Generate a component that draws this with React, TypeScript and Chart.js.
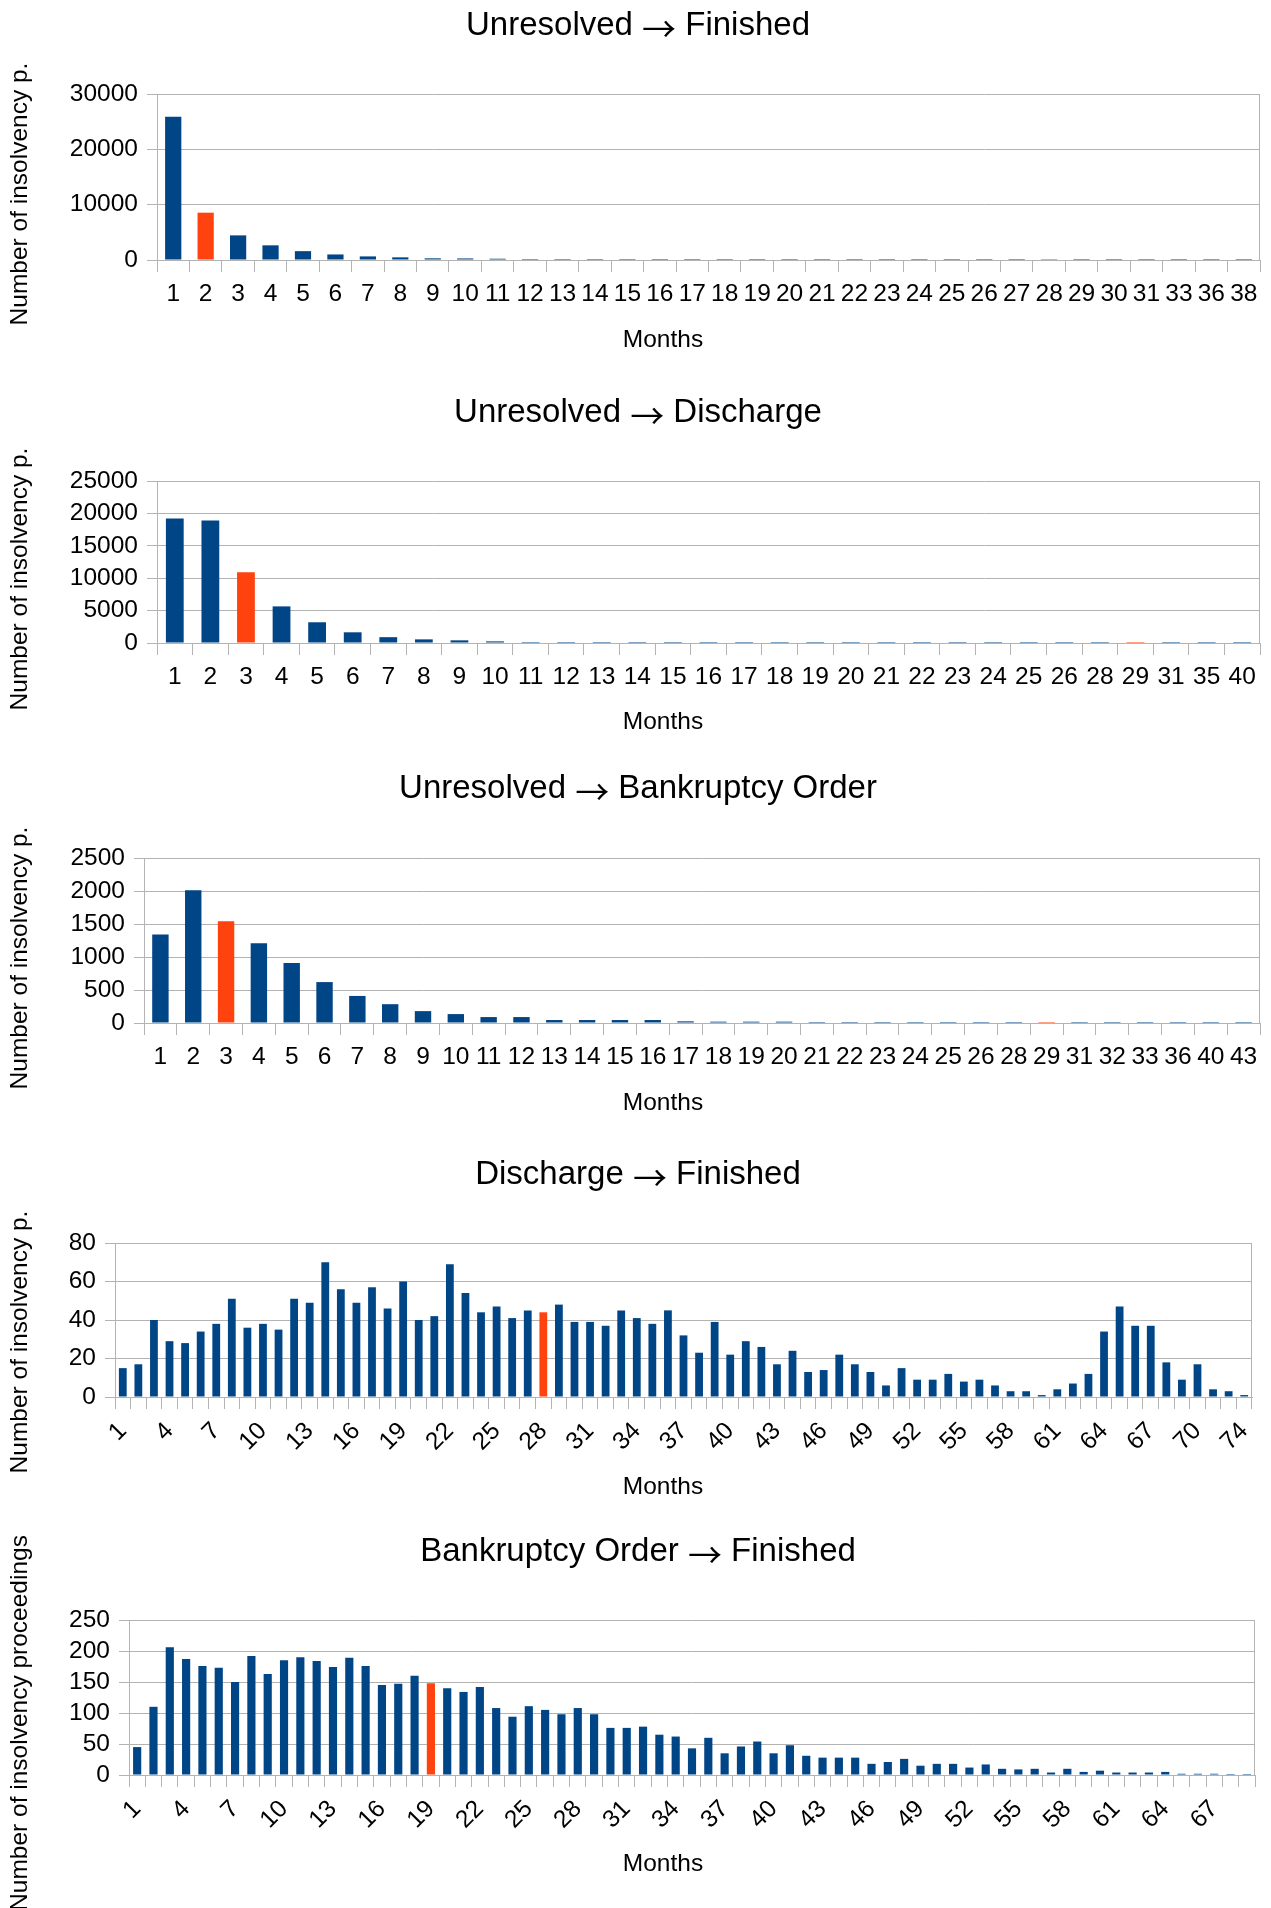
import React, { useEffect, useRef } from "react";
import { Chart, registerables } from "chart.js";

Chart.register(...registerables);

const W = 1271;
const FONT = '"Liberation Sans", Arial, sans-serif';
const ARROW_FONT = '"Noto Sans CJK SC", "DejaVu Sans", sans-serif';
const BLUE = "#004586";
const ORANGE = "#ff420e";
const GRID = "#b3b3b3";

// ---------- Unresolved → Finished ----------
const ufMonths = [1, 2, 3, 4, 5, 6, 7, 8, 9, 10, 11, 12, 13, 14, 15, 16, 17, 18, 19, 20, 21, 22, 23, 24, 25, 26, 27, 28, 29, 30, 31, 33, 36, 38];
const ufCounts = [25900, 8550, 4450, 2650, 1600, 1000, 650, 480, 300, 280, 230, 120, 90, 75, 60, 50, 45, 40, 35, 30, 25, 22, 20, 18, 15, 12, 10, 9, 8, 6, 5, 4, 3, 2];
const ufHighlight = [2, 28];
const ufTicks = [0, 10000, 20000, 30000];

// ---------- Unresolved → Discharge ----------
const udMonths = [1, 2, 3, 4, 5, 6, 7, 8, 9, 10, 11, 12, 13, 14, 15, 16, 17, 18, 19, 20, 21, 22, 23, 24, 25, 26, 28, 29, 31, 35, 40];
const udCounts = [19200, 18900, 10900, 5650, 3200, 1650, 900, 560, 410, 250, 120, 90, 70, 60, 50, 40, 35, 30, 25, 20, 18, 15, 12, 10, 8, 7, 5, 5, 3, 2, 1];
const udHighlight = [3, 29];
const udTicks = [0, 5000, 10000, 15000, 20000, 25000];

// ---------- Unresolved → Bankruptcy Order ----------
const ubMonths = [1, 2, 3, 4, 5, 6, 7, 8, 9, 10, 11, 12, 13, 14, 15, 16, 17, 18, 19, 20, 21, 22, 23, 24, 25, 26, 28, 29, 31, 32, 33, 36, 40, 43];
const ubCounts = [1340, 2010, 1540, 1210, 910, 620, 410, 285, 180, 135, 90, 90, 45, 45, 45, 45, 25, 20, 20, 20, 10, 15, 8, 6, 5, 5, 4, 3, 3, 2, 2, 2, 1, 1];
const ubHighlight = [3, 29];
const ubTicks = [0, 500, 1000, 1500, 2000, 2500];

// ---------- Discharge → Finished ----------
const dfMonths = [1, 2, 3, 4, 5, 6, 7, 8, 9, 10, 11, 12, 13, 14, 15, 16, 17, 18, 19, 20, 21, 22, 23, 24, 25, 26, 27, 28, 29, 30, 31, 32, 33, 34, 35, 36, 37, 38, 39, 40, 41, 42, 43, 44, 45, 46, 47, 48, 49, 50, 51, 52, 53, 54, 55, 56, 57, 58, 59, 60, 61, 62, 63, 64, 65, 66, 67, 68, 69, 70, 71, 72, 74];
const dfCounts = [15, 17, 40, 29, 28, 34, 38, 51, 36, 38, 35, 51, 49, 70, 56, 49, 57, 46, 60, 40, 42, 69, 54, 44, 47, 41, 45, 44, 48, 39, 39, 37, 45, 41, 38, 45, 32, 23, 39, 22, 29, 26, 17, 24, 13, 14, 22, 17, 13, 6, 15, 9, 9, 12, 8, 9, 6, 3, 3, 1, 4, 7, 12, 34, 47, 37, 37, 18, 9, 17, 4, 3, 1];
const dfHighlight = [28];
const dfTicks = [0, 20, 40, 60, 80];

// ---------- Bankruptcy Order → Finished ----------
const bfMonths = [1, 2, 3, 4, 5, 6, 7, 8, 9, 10, 11, 12, 13, 14, 15, 16, 17, 18, 19, 20, 21, 22, 23, 24, 25, 26, 27, 28, 29, 30, 31, 32, 33, 34, 35, 36, 37, 38, 39, 40, 41, 42, 43, 44, 45, 46, 47, 48, 49, 50, 51, 52, 53, 54, 55, 56, 57, 58, 59, 60, 61, 62, 63, 64, 65, 66, 67, 68, 69];
const bfCounts = [45, 110, 206, 187, 176, 173, 150, 192, 163, 185, 190, 184, 174, 189, 176, 145, 147, 160, 148, 140, 134, 142, 108, 94, 111, 105, 98, 108, 98, 76, 76, 78, 65, 62, 43, 60, 35, 46, 54, 35, 48, 31, 28, 28, 28, 18, 21, 26, 15, 18, 18, 12, 17, 10, 9, 10, 4, 10, 5, 7, 4, 4, 4, 5, 2, 2, 2, 1, 1];
const bfHighlight = [19];
const bfTicks = [0, 50, 100, 150, 200, 250];

const Y_TITLE_SHORT = "Number of insolvency p.";
const Y_TITLE_LONG = "Number of insolvency proceedings";
const X_TITLE = "Months";

type Layout = {
  top: number;
  height: number;
  left: number;
  right: number;
  plotTop: number;
  plotBottom: number;
  titleY: number;
  xTitleY: number;
  yTitleY: number;
  labelPad: number;
  rotation: number;
  every: number;
};

const decorPlugin = {
  id: "decor",
  beforeDatasetsDraw(chart: any) {
    const { ctx, chartArea } = chart;
    ctx.save();
    ctx.strokeStyle = GRID;
    ctx.lineWidth = 1;
    const x = Math.round(chartArea.right) - 0.5;
    ctx.beginPath();
    ctx.moveTo(x, chartArea.top);
    ctx.lineTo(x, chartArea.bottom);
    ctx.stroke();
    ctx.restore();
  },
  afterDraw(chart: any, _args: any, opts: any) {
    const ctx = chart.ctx;
    ctx.save();
    ctx.fillStyle = "#000";
    ctx.textBaseline = "middle";

    // title, with the arrow drawn in a font that has a wide arrow glyph
    const mainFont = `33px ${FONT}`;
    const arrowFont = `34px ${ARROW_FONT}`;
    const parts = String(opts.title).split("→");
    const left = parts[0];
    const right = parts.length > 1 ? parts[1] : "";
    ctx.font = mainFont;
    const w1 = ctx.measureText(left).width;
    const w3 = ctx.measureText(right).width;
    ctx.font = arrowFont;
    const w2 = parts.length > 1 ? ctx.measureText("→").width : 0;
    let x = 638 - (w1 + w2 + w3) / 2;
    ctx.textAlign = "left";
    ctx.font = mainFont;
    ctx.fillText(left, x, opts.titleY);
    x += w1;
    if (parts.length > 1) {
      ctx.font = arrowFont;
      ctx.fillText("→", x, opts.titleY + 3);
      x += w2;
      ctx.font = mainFont;
      ctx.fillText(right, x, opts.titleY);
    }

    ctx.textAlign = "center";
    ctx.font = `24.5px ${FONT}`;
    ctx.fillText(opts.xTitle, 663, opts.xTitleY);
    ctx.translate(20.5, opts.yTitleY);
    ctx.rotate(-Math.PI / 2);
    ctx.fillText(opts.yTitle, 0, 0);
    ctx.restore();
  },
};

type PanelProps = {
  title: string;
  yTitle: string;
  months: number[];
  counts: number[];
  highlight: number[];
  yTicks: number[];
  layout: Layout;
};

function Panel({ title, yTitle, months, counts, highlight, yTicks, layout }: PanelProps) {
  const ref = useRef<HTMLCanvasElement>(null);
  useEffect(() => {
    const canvas = ref.current as HTMLCanvasElement;
    const L = layout;
    const labels = months.map(String);
    const tickFont = { family: FONT, size: 24.5, lineHeight: 1.2 };
    const chart = new Chart(canvas, {
      type: "bar",
      data: {
        labels,
        datasets: [
          {
            data: counts,
            backgroundColor: months.map((m) => (highlight.includes(m) ? ORANGE : BLUE)),
            borderWidth: 0,
            barPercentage: 0.5,
            categoryPercentage: 1,
            minBarLength: 1,
          },
        ],
      },
      options: {
        responsive: false,
        maintainAspectRatio: false,
        animation: false,
        devicePixelRatio: 1,
        events: [],
        layout: {
          padding: { left: 0, right: W - L.right, top: L.plotTop, bottom: 0 },
        },
        plugins: {
          legend: { display: false },
          tooltip: { enabled: false },
          title: { display: false },
          decor: {
            title,
            yTitle,
            xTitle: X_TITLE,
            titleY: L.titleY,
            xTitleY: L.xTitleY,
            yTitleY: L.yTitleY,
          },
        } as any,
        scales: {
          x: {
            type: "category",
            offset: true,
            grid: {
              display: true,
              offset: true,
              drawOnChartArea: false,
              drawTicks: true,
              tickLength: 12,
              color: GRID,
              tickColor: GRID,
              lineWidth: 1,
            },
            border: { display: true, color: GRID, width: 1 },
            ticks: {
              autoSkip: false,
              maxRotation: L.rotation,
              minRotation: L.rotation,
              padding: L.labelPad,
              color: "#000",
              font: tickFont,
              callback: (_v: any, i: number) => (i % L.every === 0 ? labels[i] : ""),
            },
            afterFit: (s: any) => {
              s.height = L.height - L.plotBottom;
              s.paddingLeft = 0;
              s.paddingRight = 0;
              s.paddingTop = 0;
              s.paddingBottom = 0;
            },
          },
          y: {
            min: yTicks[0],
            max: yTicks[yTicks.length - 1],
            grid: {
              color: GRID,
              tickColor: GRID,
              tickLength: 10,
              drawTicks: true,
              lineWidth: 1,
            },
            border: { display: true, color: GRID, width: 1 },
            ticks: {
              autoSkip: false,
              padding: 9,
              color: "#000",
              font: tickFont,
              callback: (v: any) => String(v),
            },
            afterBuildTicks: (s: any) => {
              s.ticks = yTicks.map((v) => ({ value: v }));
            },
            afterFit: (s: any) => {
              s.width = L.left;
              s.paddingLeft = 0;
              s.paddingRight = 0;
              s.paddingTop = 0;
              s.paddingBottom = 0;
            },
          },
        },
      } as any,
      plugins: [decorPlugin as any],
    });
    return () => chart.destroy();
  }, []);
  return (
    <canvas
      ref={ref}
      width={W}
      height={layout.height}
      style={{ position: "absolute", left: 0, top: layout.top, width: W, height: layout.height, display: "block" }}
    />
  );
}

export default function App() {
  return (
    <div style={{ position: "absolute", left: 0, top: 0, width: W, height: 1908, background: "#fff", overflow: "hidden" }}>
      <Panel
        title="Unresolved → Finished"
        yTitle={Y_TITLE_SHORT}
        months={ufMonths}
        counts={ufCounts}
        highlight={ufHighlight}
        yTicks={ufTicks}
        layout={{ top: 0, height: 380, left: 157, right: 1260, plotTop: 94, plotBottom: 260, titleY: 26, xTitleY: 340, yTitleY: 194, labelPad: 7.3, rotation: 0, every: 1 }}
      />
      <Panel
        title="Unresolved → Discharge"
        yTitle={Y_TITLE_SHORT}
        months={udMonths}
        counts={udCounts}
        highlight={udHighlight}
        yTicks={udTicks}
        layout={{ top: 380, height: 380, left: 157, right: 1260, plotTop: 101, plotBottom: 263, titleY: 33, xTitleY: 342, yTitleY: 199, labelPad: 8, rotation: 0, every: 1 }}
      />
      <Panel
        title="Unresolved → Bankruptcy Order"
        yTitle={Y_TITLE_SHORT}
        months={ubMonths}
        counts={ubCounts}
        highlight={ubHighlight}
        yTicks={ubTicks}
        layout={{ top: 760, height: 380, left: 144, right: 1260, plotTop: 98, plotBottom: 263, titleY: 29, xTitleY: 343, yTitleY: 198, labelPad: 8, rotation: 0, every: 1 }}
      />
      <Panel
        title="Discharge → Finished"
        yTitle={Y_TITLE_SHORT}
        months={dfMonths}
        counts={dfCounts}
        highlight={dfHighlight}
        yTicks={dfTicks}
        layout={{ top: 1140, height: 390, left: 115, right: 1252, plotTop: 103, plotBottom: 257, titleY: 35, xTitleY: 347, yTitleY: 202, labelPad: 7.6, rotation: 45, every: 3 }}
      />
      <Panel
        title="Bankruptcy Order → Finished"
        yTitle={Y_TITLE_LONG}
        months={bfMonths}
        counts={bfCounts}
        highlight={bfHighlight}
        yTicks={bfTicks}
        layout={{ top: 1530, height: 378, left: 129, right: 1255, plotTop: 90, plotBottom: 245, titleY: 22, xTitleY: 334, yTitleY: 193, labelPad: 7.6, rotation: 45, every: 3 }}
      />
    </div>
  );
}
